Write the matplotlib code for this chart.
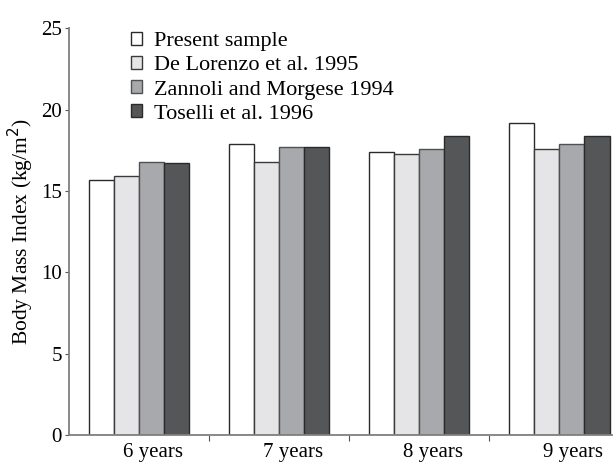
import numpy as np
import matplotlib
matplotlib.use('Agg')
import matplotlib.pyplot as plt
from matplotlib.patches import Patch

groups = ["6 years", "7 years", "8 years", "9 years"]
series = ["Present sample", "De Lorenzo et al. 1995", "Zannoli and Morgese 1994", "Toselli et al. 1996"]
present = [15.7, 17.9, 17.4, 19.2]
lorenzo = [15.9, 16.8, 17.3, 17.6]
zannoli = [16.8, 17.7, 17.6, 17.9]
toselli = [16.7, 17.7, 18.4, 18.4]

colors = ["#ffffff", "#e5e5e7", "#a8a9ac", "#555658"]
edges = ["#2a2a2a", "#3a3a3a", "#505050", "#2a2a2a"]

plt.rcParams['font.family'] = ['Liberation Serif', 'DejaVu Serif']

fig = plt.figure(figsize=(6.16, 4.65), dpi=100)
ax = fig.add_axes([0.112, 0.0645, 0.882, 0.8745])

x = np.arange(len(groups))
w = 0.18
for i, vals in enumerate([present, lorenzo, zannoli, toselli]):
  ax.bar(x + (i - 1.5) * w, vals, width=w, color=colors[i], edgecolor=edges[i], linewidth=1.0, label=series[i])

ax.set_xlim(-0.5, 3.38)
ax.set_ylim(0, 25)
ax.set_yticks([0, 5, 10, 15, 20, 25])

# tick marks at group boundaries, labels slightly right of group centre
ax.set_xticks([0.5, 1.5, 2.5])
ax.set_xticklabels([])
ax.set_xticks(x + 0.1, minor=True)
ax.set_xticklabels(groups, minor=True)
ax.tick_params(axis='x', which='minor', length=0, pad=6, labelsize=15)
ax.tick_params(axis='x', which='major', length=4, color='#555555', direction='out')
ax.tick_params(axis='y', length=3, color='#555555', direction='out', labelsize=15, pad=2)

for s in ['top', 'right']:
  ax.spines[s].set_visible(False)
for s in ['left', 'bottom']:
  ax.spines[s].set_color('#808080')
  ax.spines[s].set_linewidth(1.3)

ax.set_ylabel('Body Mass Index (kg/m$^2$)', fontsize=15.5, labelpad=4)

handles = [Patch(facecolor=colors[i], edgecolor=edges[i], linewidth=1.0) for i in range(4)]
ax.legend(handles, series, loc='upper left', bbox_to_anchor=(0.078, 1.04), frameon=False,
          fontsize=16, handlelength=0.5, handleheight=0.5, handletextpad=0.5, labelspacing=0.22)

plt.savefig('out.png', dpi=100)
